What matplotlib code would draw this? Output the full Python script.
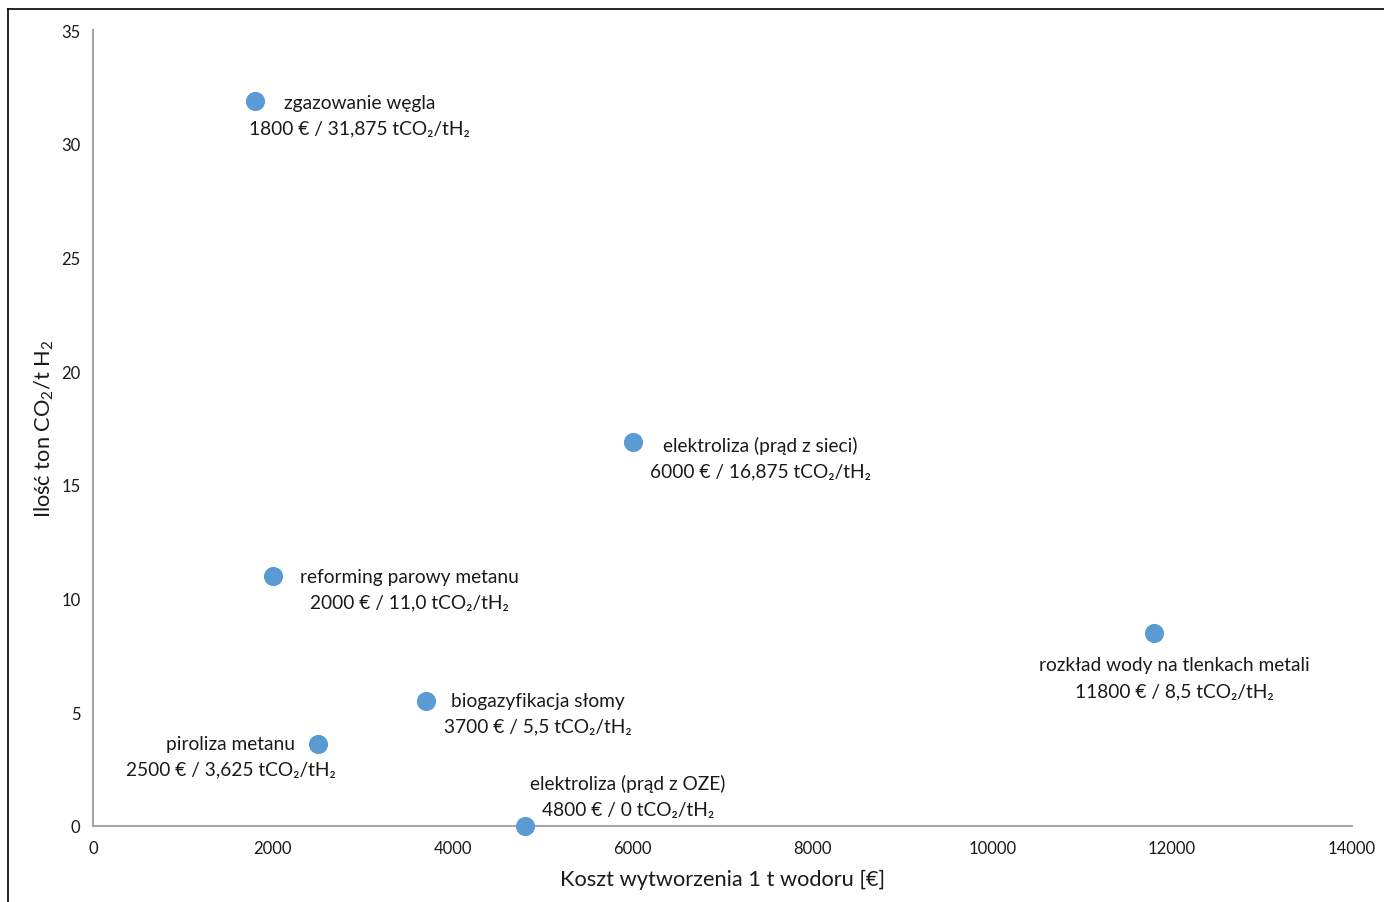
import matplotlib
matplotlib.use('Agg')
import matplotlib.pyplot as plt
from matplotlib.lines import Line2D

plt.rcParams['font.family'] = ['Lato', 'DejaVu Sans']
plt.rcParams['mathtext.fontset'] = 'custom'
plt.rcParams['mathtext.rm'] = 'Lato'
plt.rcParams['mathtext.it'] = 'Lato'

# data
methods = ["zgazowanie węgla", "elektroliza (prąd z sieci)", "reforming parowy metanu",
           "rozkład wody na tlenkach metali", "biogazyfikacja słomy", "piroliza metanu",
           "elektroliza (prąd z OZE)"]
cost = [1800, 6000, 2000, 11800, 3700, 2500, 4800]
co2 = [31.875, 16.875, 11.0, 8.5, 5.5, 3.625, 0]
co2_text = ["31,875", "16,875", "11,0", "8,5", "5,5", "3,625", "0"]

# label offsets in pixels (dx right, dy down) - layout only
label_offsets = [(105, 14), (128, 15), (137, 13), (20, 45), (112, 12), (-87, 13), (103, -30)]

blue = '#5B9BD5'
grey = '#A6A6A6'

fig = plt.figure(figsize=(13.84, 9.03), dpi=100)
ax = fig.add_axes([93 / 1384, 1 - 827 / 903, (1352 - 93) / 1384, (827 - 31) / 903])

ax.scatter(cost, co2, s=190, color=blue, zorder=3, clip_on=False, linewidths=0)

for name, x, y, t, (dx, dy) in zip(methods, cost, co2, co2_text, label_offsets):
    ax.annotate(f"{name}\n{x} € / {t} tCO₂/tH₂", (x, y), xytext=(dx * 0.72, -dy * 0.72),
                textcoords='offset points', ha='center', va='center',
                fontsize=13.8, color='#1a1a1a', linespacing=1.6)

ax.set_xlim(0, 14000)
ax.set_ylim(0, 35)
ax.set_xticks(range(0, 14001, 2000))
ax.set_yticks(range(0, 36, 5))
ax.tick_params(length=0, labelsize=12, colors='#1a1a1a')
ax.tick_params(axis='y', pad=9)
ax.tick_params(axis='x', pad=10)

for side in ['top', 'right']:
    ax.spines[side].set_visible(False)
for side in ['left', 'bottom']:
    ax.spines[side].set_color(grey)
    ax.spines[side].set_linewidth(1.5)

ax.set_xlabel("Koszt wytworzenia 1 t wodoru [€]", fontsize=15.7, color='#1a1a1a', labelpad=9)
ax.set_ylabel("Ilość ton CO$_2$/t H$_2$", fontsize=15.7, color='#1a1a1a', labelpad=4)

# outer frame (cut off at right and bottom)
fig.add_artist(Line2D([8 / 1384, 8 / 1384], [0, 1 - 10 / 903], color='black', lw=1.2,
                      transform=fig.transFigure))
fig.add_artist(Line2D([8 / 1384, 1], [1 - 10 / 903, 1 - 10 / 903], color='black', lw=1.2,
                      transform=fig.transFigure))

fig.savefig('out.png', dpi=100)
